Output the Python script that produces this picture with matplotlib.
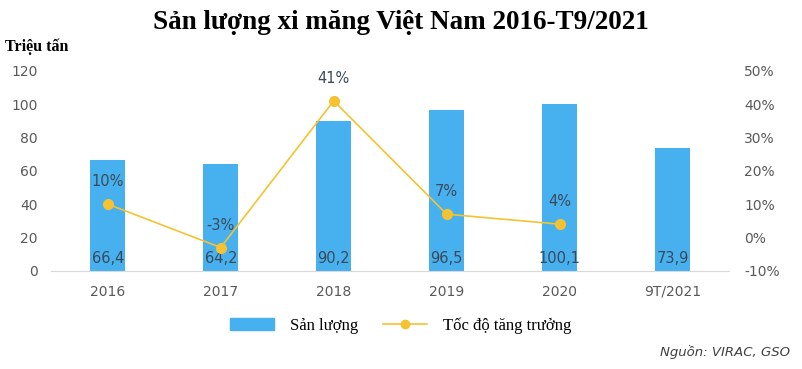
import matplotlib.pyplot as plt
from matplotlib.lines import Line2D
from matplotlib.patches import Patch

years = ['2016', '2017', '2018', '2019', '2020', '9T/2021']
san_luong = [66.4, 64.2, 90.2, 96.5, 100.1, 73.9]
tang_truong = [10, -3, 41, 7, 4]
bar_labels = ['66,4', '64,2', '90,2', '96,5', '100,1', '73,9']

BAR_C = '#47B0EE'
LINE_C = '#F5C232'
TICK_C = '#595959'
TXT_C = '#3B4A5A'

fig = plt.figure(figsize=(8.02, 3.69), dpi=100)
ax = fig.add_axes([0.064, 0.266, 0.845, 0.542])
ax2 = ax.twinx()

x = list(range(len(years)))
ax.bar(x, san_luong, width=0.31, color=BAR_C, zorder=2)
for xi, lab in zip(x, bar_labels):
    ax.text(xi, 7.5, lab, ha='center', va='center', fontsize=10.5, color=TXT_C, zorder=5)

ax.set_ylim(0, 120)
ax.set_yticks(range(0, 121, 20))
ax.set_xlim(-0.5, 5.5)
ax.set_xticks(x)
ax.set_xticklabels(years)

gx = x[:len(tang_truong)]
ax2.plot(gx, tang_truong, color=LINE_C, lw=1.2, marker='o', ms=7, zorder=4)
for xi, v in zip(gx, tang_truong):
    ax2.text(xi, v + 4.5, f'{v}%', ha='center', va='bottom', fontsize=10.5, color=TXT_C)
ax2.set_ylim(-10, 50)
ax2.set_yticks(range(-10, 51, 10))
ax2.set_yticklabels([f'{t}%' for t in range(-10, 51, 10)])

for a in (ax, ax2):
    for s in a.spines.values():
        s.set_visible(False)
    a.tick_params(length=0, labelsize=10, labelcolor=TICK_C)
ax.spines['bottom'].set_visible(True)
ax.spines['bottom'].set_color('#D9D9D9')
ax.tick_params(axis='x', pad=10)
ax.tick_params(axis='y', pad=10)
ax2.tick_params(axis='y', pad=11)

fig.text(0.5, 0.938, 'Sản lượng xi măng Việt Nam 2016-T9/2021', ha='center', va='center',
         family='Liberation Serif', fontweight='bold', fontsize=19.5)
fig.text(0.006, 0.873, 'Triệu tấn', ha='left', va='center',
         family='Liberation Serif', fontweight='bold', fontsize=11.5)

handles = [Patch(color=BAR_C), Line2D([], [], color=LINE_C, marker='o', ms=6, lw=1.2)]
fig.legend(handles, ['Sản lượng', 'Tốc độ tăng trưởng'], loc='center', bbox_to_anchor=(0.5, 0.118),
           ncol=2, frameon=False, prop={'family': 'Liberation Serif', 'size': 12},
           handlelength=2.6, handletextpad=1.0, columnspacing=1.5)
fig.text(0.985, 0.045, 'Nguồn: VIRAC, GSO', ha='right', va='center', style='italic',
         fontsize=9.5, color='#404040')

fig.savefig('out.png', dpi=100)
